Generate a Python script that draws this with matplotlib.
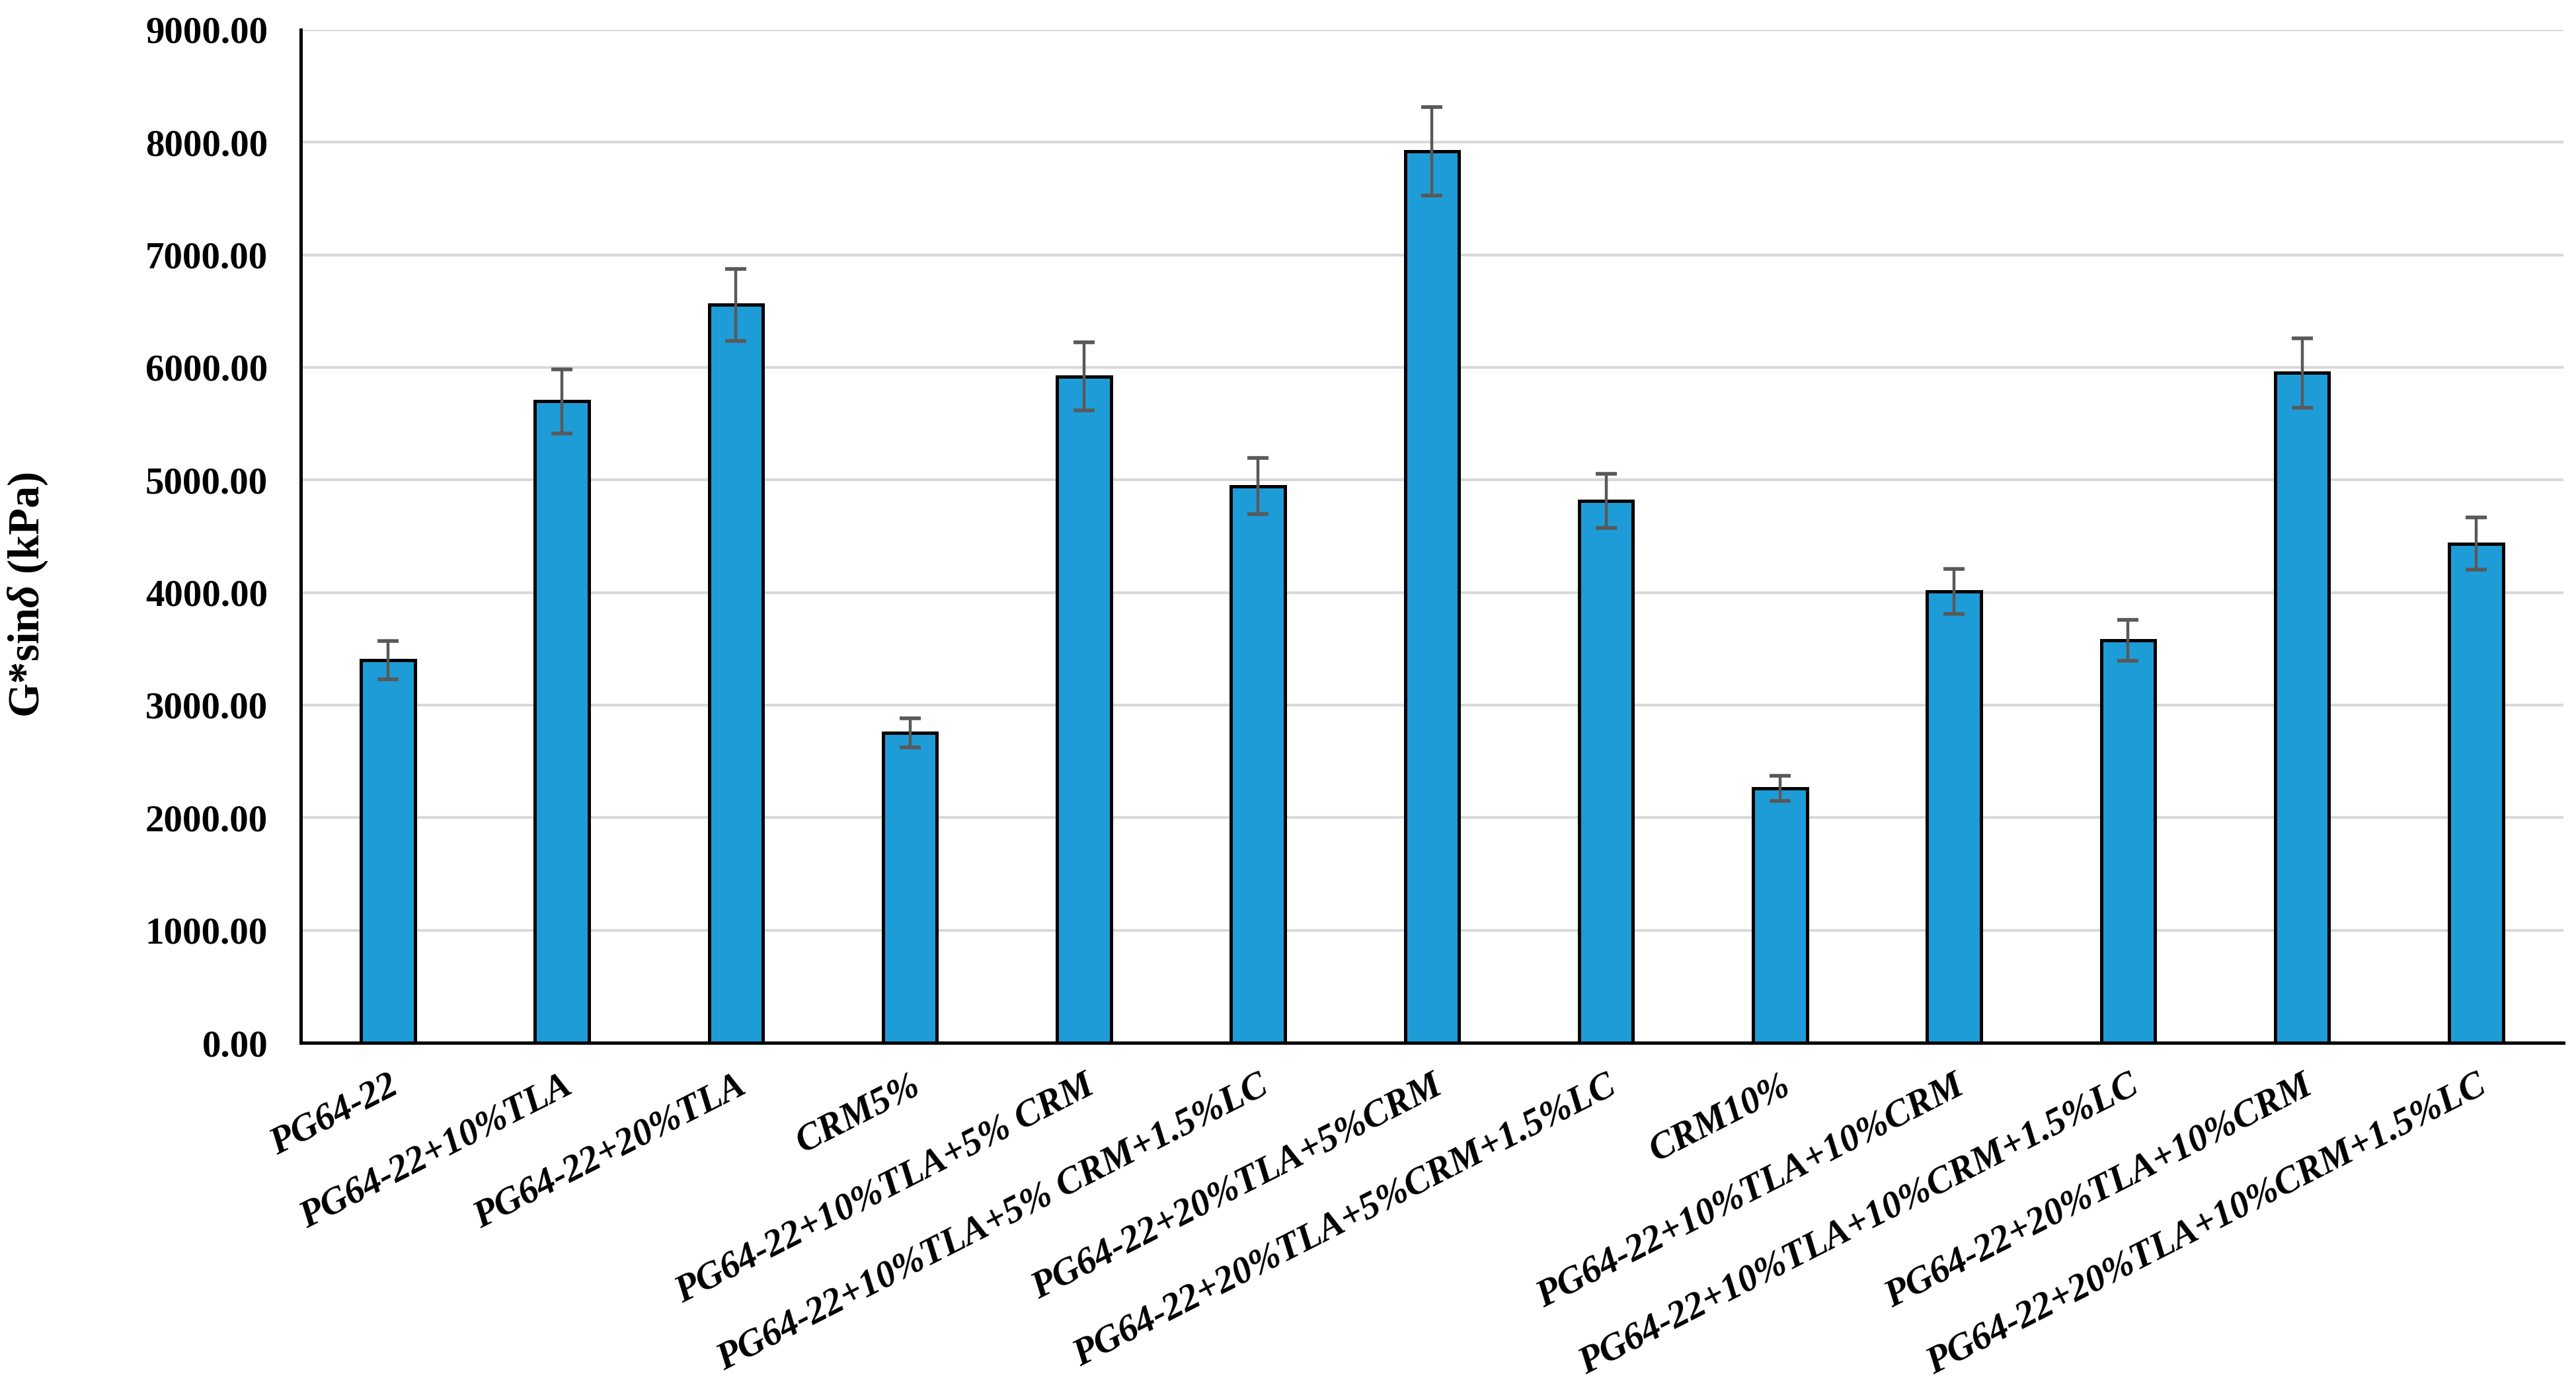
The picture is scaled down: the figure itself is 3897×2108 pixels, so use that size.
import matplotlib
matplotlib.use("Agg")
import matplotlib.pyplot as plt
import numpy as np

categories = [
    "PG64-22",
    "PG64-22+10%TLA",
    "PG64-22+20%TLA",
    "CRM5%",
    "PG64-22+10%TLA+5% CRM",
    "PG64-22+10%TLA+5% CRM+1.5%LC",
    "PG64-22+20%TLA+5%CRM",
    "PG64-22+20%TLA+5%CRM+1.5%LC",
    "CRM10%",
    "PG64-22+10%TLA+10%CRM",
    "PG64-22+10%TLA+10%CRM+1.5%LC",
    "PG64-22+20%TLA+10%CRM",
    "PG64-22+20%TLA+10%CRM+1.5%LC",
]
values = [3400, 5700, 6555, 2755, 5920, 4945, 7920, 4815, 2260, 4010, 3575, 5950, 4435]
errors = [170, 285, 320, 130, 300, 250, 395, 240, 110, 197, 182, 306, 233]
yticks = [0, 1000, 2000, 3000, 4000, 5000, 6000, 7000, 8000, 9000]

plt.rcParams["mathtext.fontset"] = "custom"
plt.rcParams["mathtext.rm"] = "Liberation Serif:bold"
plt.rcParams["mathtext.it"] = "Liberation Serif:italic:bold"
plt.rcParams["mathtext.bf"] = "Liberation Serif:bold"

DPI = 200
fig = plt.figure(figsize=(3897 / DPI, 2108 / DPI), dpi=DPI)
ax = fig.add_axes([0.1168, 0.2514, 0.995 - 0.1168, 0.9787 - 0.2514])

serif = ["Liberation Serif", "DejaVu Serif"]
x = np.arange(len(categories))
ax.bar(x, values, width=0.31, color="#1E9CD7", edgecolor="black", linewidth=1.8, zorder=3)
ax.errorbar(x, values, yerr=errors, fmt="none", ecolor="#595959", elinewidth=1.6,
            capsize=5.6, capthick=2.0, zorder=4)

ax.set_xlim(-0.5, len(categories) - 0.5)
ax.set_ylim(0, 9000)
ax.set_yticks(yticks)
ax.set_yticklabels([f"{v:.2f}" for v in yticks], family=serif, fontweight="bold", fontsize=20.5)
ax.set_xticks(x)
ax.set_xticklabels(categories, family=serif, fontweight="bold", fontstyle="italic",
                   fontsize=20.5, rotation=27, ha="right", va="top", rotation_mode="anchor")
ax.tick_params(axis="both", length=0)
ax.tick_params(axis="y", pad=18)
ax.tick_params(axis="x", pad=14)

ax.yaxis.grid(True, color="#D9D9D9", linewidth=1.5, zorder=0)
ax.set_axisbelow(True)
for s in ["top", "right"]:
    ax.spines[s].set_visible(False)
for s in ["left", "bottom"]:
    ax.spines[s].set_linewidth(1.8)
    ax.spines[s].set_color("black")

ax.set_ylabel(r"G*sin$\delta$ (kPa)", family=serif, fontweight="bold", fontsize=24)
ax.yaxis.set_label_coords(-0.111, 0.442)

fig.savefig("out.png", dpi=DPI)
